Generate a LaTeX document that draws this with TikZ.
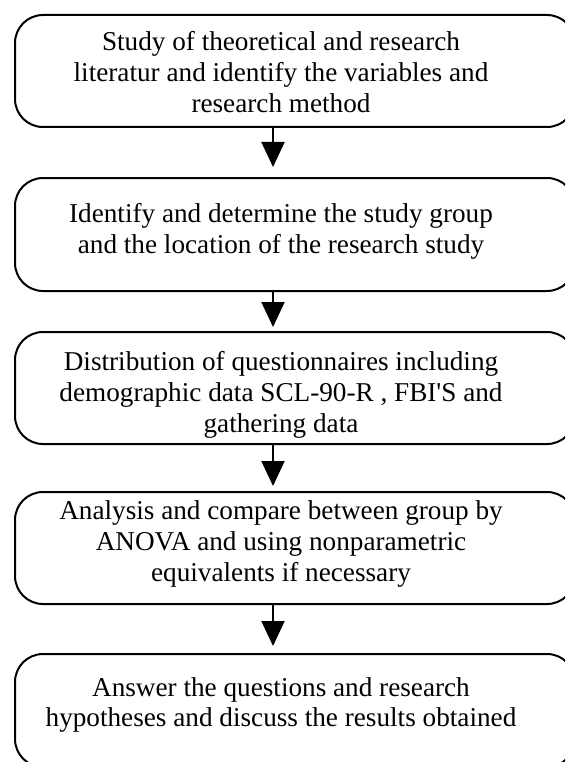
\documentclass[tikz,border=0pt]{standalone}
\usepackage{fontspec}
\setmainfont{Liberation Serif}[Ligatures=TeXOff]
\usetikzlibrary{arrows.meta}
\begin{document}
\begin{tikzpicture}[x=1pt,y=-1pt,
  box/.style={draw=black,line width=2pt,rounded corners=28pt,minimum width=560pt,inner sep=0pt},
  txt/.style={align=center,inner sep=0pt,font=\fontsize{27.2pt}{30.8pt}\selectfont},
  arr/.style={line width=2pt,-{Triangle[length=25pt,width=23pt]}}]
\useasboundingbox (0,0) rectangle (565,762);
\clip (0,0) rectangle (565,762);
\coordinate (ax) at (273,0);
\node[box,minimum height=112pt] (b1) at (295,71) {};
\node[box,minimum height=113pt] (b2) at (295,234.5) {};
\node[box,minimum height=112pt] (b3) at (295,388) {};
\node[box,minimum height=112pt] (b4) at (295,548) {};
\node[box,minimum height=113pt] (b5) at (295,710.5) {};
\node[txt] (t1) at (281,72) {Study of theoretical and research\\literatur and identify the variables and\\research method};
\node[txt] (t2) at (281,231) {Identify and determine the study group\\and the location of the research study};
\node[txt] (t3) at (281,395) {Distribution of questionnaires including\\demographic data SCL-90-R , FBI'S and\\gathering data};
\node[txt] (t4) at (281,544) {Analysis and compare between group by\\ANOVA and using nonparametric\\equivalents if necessary};
\node[txt] (t5) at (281,705) {Answer the questions and research\\hypotheses and discuss the results obtained};
\draw[arr,shorten >=10pt] (b1.south -| ax) -- (b2.north -| ax);
\draw[arr,shorten >=4pt] (b2.south -| ax) -- (b3.north -| ax);
\draw[arr,shorten >=5pt] (b3.south -| ax) -- (b4.north -| ax);
\draw[arr,shorten >=7pt] (b4.south -| ax) -- (b5.north -| ax);
\end{tikzpicture}
\end{document}
